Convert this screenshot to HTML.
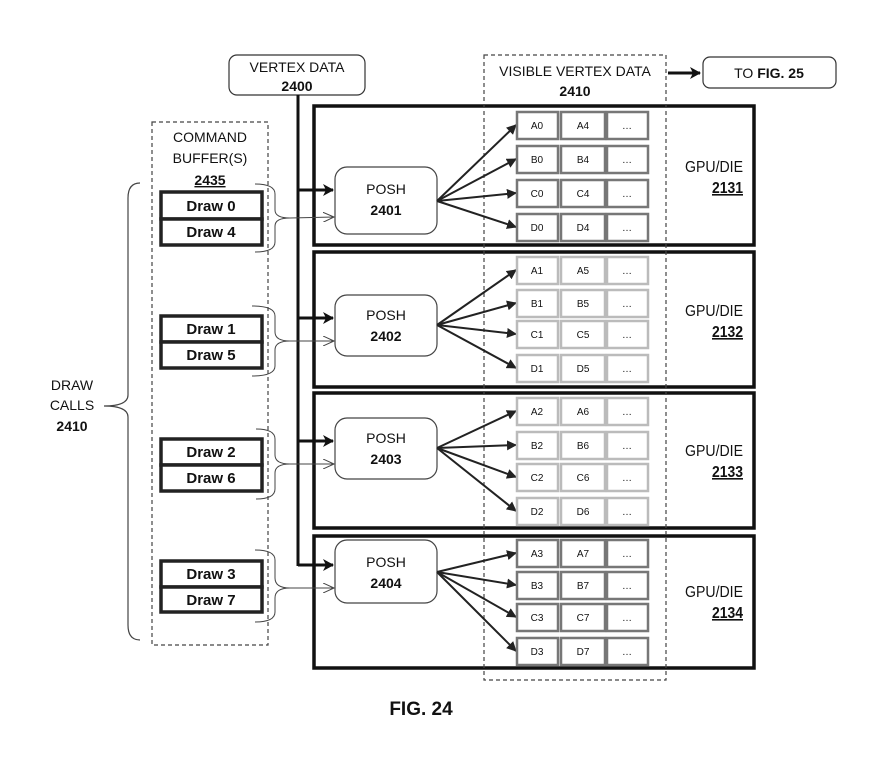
<!DOCTYPE html>
<html><head><meta charset="utf-8"><style>
body{margin:0;background:#fff}
text{font-family:"Liberation Sans",sans-serif;fill:#111}
</style></head><body>
<svg width="872" height="771" viewBox="0 0 872 771" xmlns="http://www.w3.org/2000/svg">
<defs>
<marker id="ah" markerWidth="10" markerHeight="10" refX="9" refY="5" orient="auto" markerUnits="userSpaceOnUse"><path d="M0,0 L10,5 L0,10 Z" fill="#222"/></marker>
<marker id="ahb" markerWidth="12" markerHeight="12" refX="10" refY="6" orient="auto" markerUnits="userSpaceOnUse"><path d="M0,0 L11,6 L0,12 L3,6 Z" fill="#111"/></marker>
<marker id="aho" markerWidth="12" markerHeight="10" refX="11" refY="5" orient="auto" markerUnits="userSpaceOnUse"><path d="M0,0 L11,5 L0,10" fill="none" stroke="#444" stroke-width="1"/></marker>
</defs>

<rect x="152" y="122" width="116" height="523" fill="none" stroke="#444" stroke-width="1.2" stroke-dasharray="4,3"/>
<text x="210" y="142" font-size="14" text-anchor="middle">COMMAND</text>
<text x="210" y="163" font-size="14" text-anchor="middle">BUFFER(S)</text>
<text x="210" y="185" font-size="14" font-weight="bold" text-anchor="middle" text-decoration="underline">2435</text>

<g fill="none" stroke="#111" stroke-width="3.5">
<rect x="314" y="106" width="440" height="139"/>
<rect x="314" y="252" width="440" height="135"/>
<rect x="314" y="393" width="440" height="135"/>
<rect x="314" y="536" width="440" height="132"/>
</g>
<g font-size="16" text-anchor="end">
<text x="743" y="172" textLength="58" lengthAdjust="spacingAndGlyphs">GPU/DIE</text>
<text x="743" y="193" textLength="31" lengthAdjust="spacingAndGlyphs" font-weight="bold" text-decoration="underline">2131</text>
<text x="743" y="316" textLength="58" lengthAdjust="spacingAndGlyphs">GPU/DIE</text>
<text x="743" y="337" textLength="31" lengthAdjust="spacingAndGlyphs" font-weight="bold" text-decoration="underline">2132</text>
<text x="743" y="456" textLength="58" lengthAdjust="spacingAndGlyphs">GPU/DIE</text>
<text x="743" y="477" textLength="31" lengthAdjust="spacingAndGlyphs" font-weight="bold" text-decoration="underline">2133</text>
<text x="743" y="597" textLength="58" lengthAdjust="spacingAndGlyphs">GPU/DIE</text>
<text x="743" y="618" textLength="31" lengthAdjust="spacingAndGlyphs" font-weight="bold" text-decoration="underline">2134</text>
</g>

<rect x="484" y="55" width="182" height="625" fill="none" stroke="#444" stroke-width="1.2" stroke-dasharray="4,3"/>
<text x="575" y="76" font-size="14" text-anchor="middle">VISIBLE VERTEX DATA</text>
<text x="575" y="96" font-size="14" font-weight="bold" text-anchor="middle">2410</text>

<rect x="229" y="55" width="136" height="40" rx="8" fill="#fff" stroke="#333" stroke-width="1.2"/>
<text x="297" y="72" font-size="14" text-anchor="middle">VERTEX DATA</text>
<text x="297" y="91" font-size="14" font-weight="bold" text-anchor="middle">2400</text>
<line x1="298" y1="95" x2="298" y2="566" stroke="#111" stroke-width="3"/>
<g stroke="#111" stroke-width="3" marker-end="url(#ahb)">
<line x1="298" y1="190" x2="333" y2="190"/>
<line x1="298" y1="318" x2="333" y2="318"/>
<line x1="298" y1="441" x2="333" y2="441"/>
<line x1="298" y1="565" x2="333" y2="565"/>
</g>

<line x1="668" y1="73" x2="700" y2="73" stroke="#111" stroke-width="3" marker-end="url(#ahb)"/>
<rect x="703" y="57" width="133" height="31" rx="7" fill="#fff" stroke="#333" stroke-width="1.2"/>
<text x="769" y="78" font-size="14" text-anchor="middle">TO <tspan font-weight="bold">FIG. 25</tspan></text>

<g fill="#fff" stroke="#444" stroke-width="1.2">
<rect x="335" y="167" width="102" height="67" rx="12"/>
<rect x="335" y="295" width="102" height="61" rx="12"/>
<rect x="335" y="418" width="102" height="61" rx="12"/>
<rect x="335" y="540" width="102" height="63" rx="12"/>
</g>
<g font-size="14" text-anchor="middle">
<text x="386" y="194">POSH</text><text x="386" y="215" font-weight="bold">2401</text>
<text x="386" y="320">POSH</text><text x="386" y="341" font-weight="bold">2402</text>
<text x="386" y="443">POSH</text><text x="386" y="464" font-weight="bold">2403</text>
<text x="386" y="567">POSH</text><text x="386" y="588" font-weight="bold">2404</text>
</g>

<g stroke="#222" stroke-width="2" marker-end="url(#ah)">
<line x1="437" y1="201" x2="516" y2="125"/><line x1="437" y1="201" x2="516" y2="159"/><line x1="437" y1="201" x2="516" y2="193"/><line x1="437" y1="201" x2="516" y2="227"/>
<line x1="437" y1="325" x2="516" y2="270"/><line x1="437" y1="325" x2="516" y2="303"/><line x1="437" y1="325" x2="516" y2="334"/><line x1="437" y1="325" x2="516" y2="368"/>
<line x1="437" y1="448" x2="516" y2="411"/><line x1="437" y1="448" x2="516" y2="445"/><line x1="437" y1="448" x2="516" y2="477"/><line x1="437" y1="448" x2="516" y2="511"/>
<line x1="437" y1="572" x2="516" y2="553"/><line x1="437" y1="572" x2="516" y2="585"/><line x1="437" y1="572" x2="516" y2="617"/><line x1="437" y1="572" x2="516" y2="651"/>
</g>

<g font-size="10" fill="#666" text-anchor="middle">
<g stroke="#777" stroke-width="2.5" fill="#fff">
<rect x="517" y="112" width="41" height="27"/><rect x="561" y="112" width="44" height="27"/><rect x="607" y="112" width="41" height="27"/>
<rect x="517" y="146" width="41" height="27"/><rect x="561" y="146" width="44" height="27"/><rect x="607" y="146" width="41" height="27"/>
<rect x="517" y="180" width="41" height="27"/><rect x="561" y="180" width="44" height="27"/><rect x="607" y="180" width="41" height="27"/>
<rect x="517" y="214" width="41" height="27"/><rect x="561" y="214" width="44" height="27"/><rect x="607" y="214" width="41" height="27"/>
<rect x="517" y="540" width="41" height="27"/><rect x="561" y="540" width="44" height="27"/><rect x="607" y="540" width="41" height="27"/>
<rect x="517" y="572" width="41" height="27"/><rect x="561" y="572" width="44" height="27"/><rect x="607" y="572" width="41" height="27"/>
<rect x="517" y="604" width="41" height="27"/><rect x="561" y="604" width="44" height="27"/><rect x="607" y="604" width="41" height="27"/>
<rect x="517" y="638" width="41" height="27"/><rect x="561" y="638" width="44" height="27"/><rect x="607" y="638" width="41" height="27"/>
</g>
<g stroke="#bbb" stroke-width="2.5" fill="#fff">
<rect x="517" y="257" width="41" height="27"/><rect x="561" y="257" width="44" height="27"/><rect x="607" y="257" width="41" height="27"/>
<rect x="517" y="290" width="41" height="27"/><rect x="561" y="290" width="44" height="27"/><rect x="607" y="290" width="41" height="27"/>
<rect x="517" y="321" width="41" height="27"/><rect x="561" y="321" width="44" height="27"/><rect x="607" y="321" width="41" height="27"/>
<rect x="517" y="355" width="41" height="27"/><rect x="561" y="355" width="44" height="27"/><rect x="607" y="355" width="41" height="27"/>
<rect x="517" y="398" width="41" height="27"/><rect x="561" y="398" width="44" height="27"/><rect x="607" y="398" width="41" height="27"/>
<rect x="517" y="432" width="41" height="27"/><rect x="561" y="432" width="44" height="27"/><rect x="607" y="432" width="41" height="27"/>
<rect x="517" y="464" width="41" height="27"/><rect x="561" y="464" width="44" height="27"/><rect x="607" y="464" width="41" height="27"/>
<rect x="517" y="498" width="41" height="27"/><rect x="561" y="498" width="44" height="27"/><rect x="607" y="498" width="41" height="27"/>
</g>
<text x="537" y="129">A0</text><text x="583" y="129">A4</text><text x="627" y="129">…</text>
<text x="537" y="163">B0</text><text x="583" y="163">B4</text><text x="627" y="163">…</text>
<text x="537" y="197">C0</text><text x="583" y="197">C4</text><text x="627" y="197">…</text>
<text x="537" y="231">D0</text><text x="583" y="231">D4</text><text x="627" y="231">…</text>
<text x="537" y="274">A1</text><text x="583" y="274">A5</text><text x="627" y="274">…</text>
<text x="537" y="307">B1</text><text x="583" y="307">B5</text><text x="627" y="307">…</text>
<text x="537" y="338">C1</text><text x="583" y="338">C5</text><text x="627" y="338">…</text>
<text x="537" y="372">D1</text><text x="583" y="372">D5</text><text x="627" y="372">…</text>
<text x="537" y="415">A2</text><text x="583" y="415">A6</text><text x="627" y="415">…</text>
<text x="537" y="449">B2</text><text x="583" y="449">B6</text><text x="627" y="449">…</text>
<text x="537" y="481">C2</text><text x="583" y="481">C6</text><text x="627" y="481">…</text>
<text x="537" y="515">D2</text><text x="583" y="515">D6</text><text x="627" y="515">…</text>
<text x="537" y="557">A3</text><text x="583" y="557">A7</text><text x="627" y="557">…</text>
<text x="537" y="589">B3</text><text x="583" y="589">B7</text><text x="627" y="589">…</text>
<text x="537" y="621">C3</text><text x="583" y="621">C7</text><text x="627" y="621">…</text>
<text x="537" y="655">D3</text><text x="583" y="655">D7</text><text x="627" y="655">…</text>
</g>

<g fill="#fff" stroke="#222" stroke-width="3.5">
<rect x="161" y="192" width="101" height="27"/><rect x="161" y="219" width="101" height="26"/>
<rect x="161" y="316" width="101" height="26"/><rect x="161" y="342" width="101" height="26"/>
<rect x="161" y="439" width="101" height="26"/><rect x="161" y="465" width="101" height="26"/>
<rect x="161" y="561" width="101" height="26"/><rect x="161" y="587" width="101" height="25"/>
</g>
<g font-size="15" font-weight="bold" text-anchor="middle" fill="#222">
<text x="211" y="211">Draw 0</text><text x="211" y="237">Draw 4</text>
<text x="211" y="334">Draw 1</text><text x="211" y="360">Draw 5</text>
<text x="211" y="457">Draw 2</text><text x="211" y="483">Draw 6</text>
<text x="211" y="579">Draw 3</text><text x="211" y="605">Draw 7</text>
</g>

<g fill="none" stroke="#444" stroke-width="1">
<path d="M255,184 Q275,184 275,194 L275,210 Q275,218 290,218 Q275,218 275,226 L275,242 Q275,252 255,252"/>
<path d="M252,306 Q275,306 275,316 L275,332 Q275,341 290,341 Q275,341 275,350 L275,366 Q275,376 252,376"/>
<path d="M256,429 Q275,429 275,439 L275,455 Q275,464 290,464 Q275,464 275,473 L275,489 Q275,499 256,499"/>
<path d="M255,550 Q275,550 275,560 L275,578 Q275,588 290,588 Q275,588 275,598 L275,612 Q275,622 255,622"/>
<g marker-end="url(#aho)">
<line x1="290" y1="218" x2="334" y2="217"/>
<line x1="290" y1="341" x2="334" y2="341"/>
<line x1="290" y1="464" x2="334" y2="464"/>
<line x1="290" y1="588" x2="334" y2="588"/>
</g>
<path d="M140,183 Q128,183 128,198 L128,395 Q128,406 104,406 Q128,406 128,417 L128,625 Q128,640 140,640" stroke-width="1.2"/>
</g>
<g font-size="14" text-anchor="middle">
<text x="72" y="390">DRAW</text>
<text x="72" y="410">CALLS</text>
<text x="72" y="431" font-weight="bold">2410</text>
</g>

<text x="421" y="715" font-size="19" font-weight="bold" text-anchor="middle">FIG. 24</text>
</svg>
</body></html>
